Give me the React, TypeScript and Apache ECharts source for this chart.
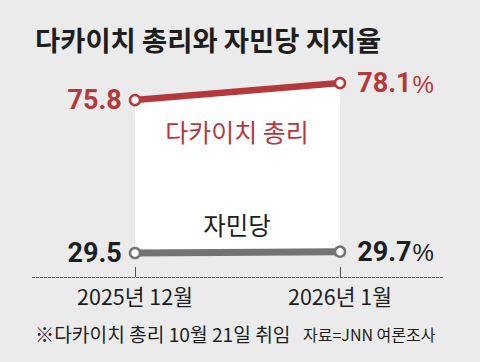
import React, { useEffect, useRef } from "react";
import * as echarts from "echarts";

const categories = ["2025년 12월", "2026년 1월"];
const pmValues = [75.8, 78.1];
const ldpValues = [29.5, 29.7];
const titleText = "다카이치 총리와 자민당 지지율";
const pmName = "다카이치 총리";
const ldpName = "자민당";
const noteText = "※다카이치 총리 10월 21일 취임";
const sourceText = "자료=JNN 여론조사";

const RED = "#b5383b";
const GRAY = "#737373";
const DARK = "#1e1e1e";
const BG = "#ebebeb";
const KR = "'Noto Sans CJK KR', 'Noto Sans', sans-serif";
const NUM = "Roboto, 'Noto Sans', sans-serif";

function valueLabel(color: string) {
  return (i: number) => ({
    show: true,
    position: i === 0 ? "left" : "right",
    distance: i === 0 ? 7 : 11,
    formatter: (p: any) => (p.dataIndex === 1 ? `{v|${p.value}}{p|%}` : `{v|${p.value}}`),
    rich: {
      v: { fontSize: 27, fontWeight: "bold", color, fontFamily: NUM, height: 28 },
      p: { fontSize: 24, color, fontFamily: "'Liberation Sans', Roboto, sans-serif", height: 28, padding: [2, 0, 0, 1] },
    },
  });
}

export default function App() {
  const ref = useRef<HTMLDivElement>(null);
  useEffect(() => {
    document.body.style.margin = "0";
    const chart = echarts.init(ref.current!, null, { renderer: "svg" });
    const redLbl = valueLabel(RED);
    const grayLbl = valueLabel(DARK);
    chart.setOption({
      animation: false,
      backgroundColor: BG,
      grid: [
        { left: 32.5, right: 37.5, top: 69, bottom: 108 },
        { left: 32.5, right: 37.5, top: 249.6, bottom: 85 },
      ],
      xAxis: [
        { gridIndex: 0, type: "category", data: categories, boundaryGap: true, show: false },
        {
          gridIndex: 1,
          type: "category",
          data: categories,
          boundaryGap: true,
          axisLine: { show: true, lineStyle: { color: "#555", width: 1, type: [2, 2] } },
          axisTick: { show: true, inside: true, length: 10, alignWithLabel: true, lineStyle: { color: "#555", width: 1 } },
          axisLabel: { color: DARK, fontSize: 21.5, fontFamily: KR, margin: 8 },
        },
      ],
      yAxis: [
        { gridIndex: 0, type: "value", min: 55, max: 80, show: false, splitLine: { show: false } },
        { gridIndex: 1, type: "value", min: 26, max: 30, show: false, splitLine: { show: false } },
      ],
      series: [
        {
          type: "line",
          xAxisIndex: 0,
          yAxisIndex: 0,
          z: 2,
          clip: false,
          data: pmValues.map((v, i) => ({ value: v, label: redLbl(i) })),
          lineStyle: { color: RED, width: 6.5 },
          itemStyle: { color: "#fff", borderColor: RED, borderWidth: 2.5 },
          symbol: "circle",
          symbolSize: 10,
          showSymbol: true,
          areaStyle: { color: "#ffffff", opacity: 1, origin: "start" },
        },
        {
          type: "line",
          xAxisIndex: 1,
          yAxisIndex: 1,
          z: 3,
          clip: false,
          data: ldpValues.map((v, i) => ({ value: v, label: grayLbl(i) })),
          lineStyle: { color: GRAY, width: 7 },
          itemStyle: { color: "#fff", borderColor: GRAY, borderWidth: 2.5 },
          symbol: "circle",
          symbolSize: 10,
          showSymbol: true,
        },
      ],
      graphic: [
        {
          type: "text",
          left: 35,
          top: 25,
          style: { text: titleText, fontSize: 27.4, fontWeight: "bold", fill: DARK, fontFamily: KR },
        },
        {
          type: "text",
          x: 237,
          y: 131,
          z: 10,
          style: { text: pmName, fontSize: 25, fill: RED, fontFamily: KR, align: "center", verticalAlign: "middle" },
        },
        {
          type: "text",
          x: 237,
          y: 224,
          z: 10,
          style: { text: ldpName, fontSize: 24.5, fill: DARK, fontFamily: KR, align: "center", verticalAlign: "middle" },
        },
        {
          type: "text",
          x: 35,
          y: 334,
          style: { text: noteText, fontSize: 19.2, fill: DARK, fontFamily: KR, verticalAlign: "middle" },
        },
        {
          type: "text",
          x: 303,
          y: 334,
          style: { text: sourceText, fontSize: 16, fill: DARK, fontFamily: KR, verticalAlign: "middle" },
        },
      ],
    });
    return () => chart.dispose();
  }, []);
  return <div ref={ref} style={{ width: 480, height: 362, position: "absolute", left: 0, top: 0 }} />;
}
